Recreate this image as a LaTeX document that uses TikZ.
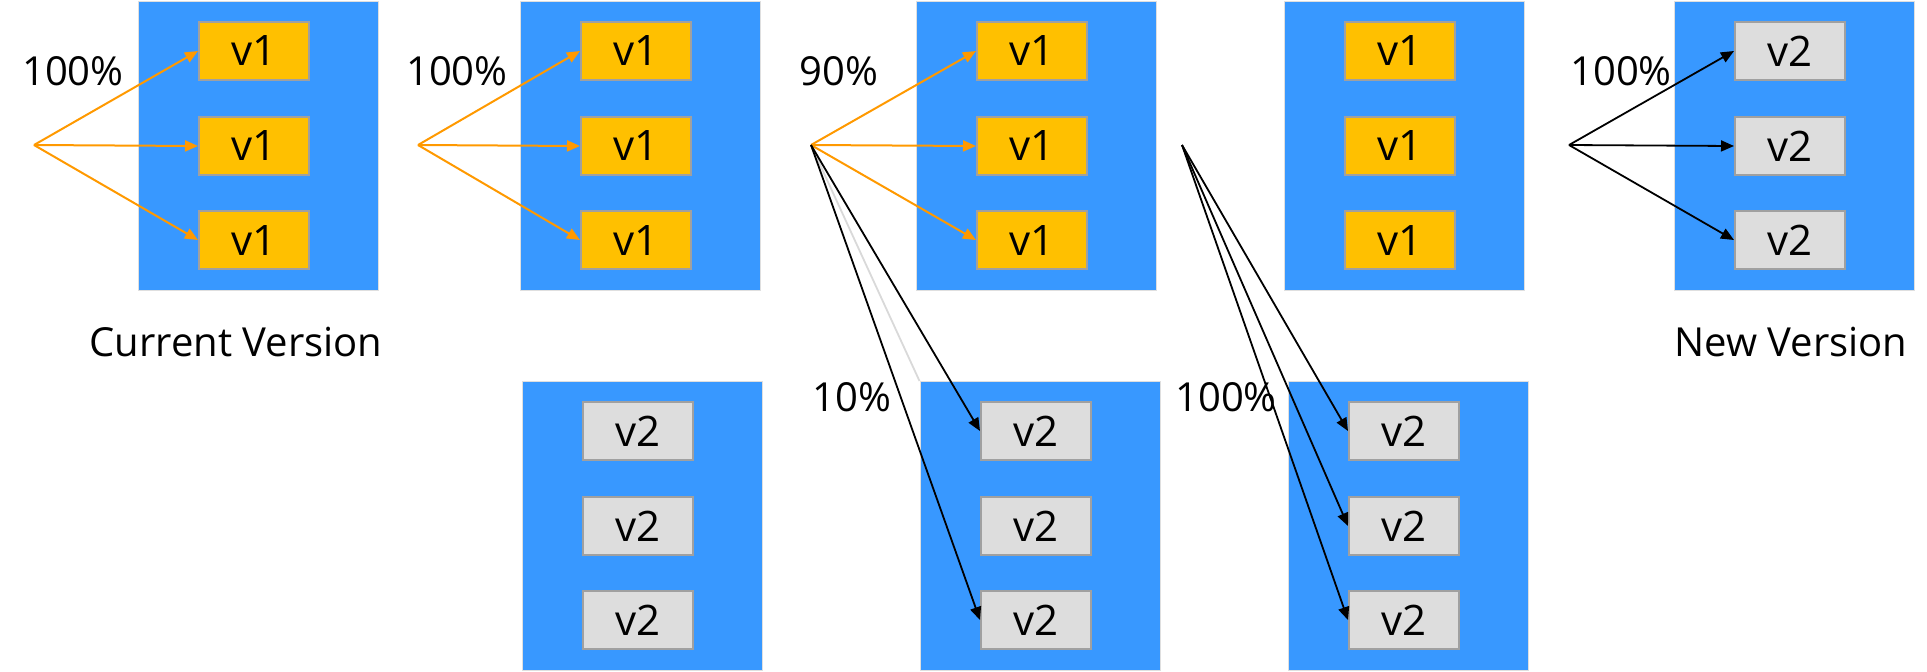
\documentclass[tikz,border=0pt]{standalone}
\usepackage{fontspec}
\setmainfont{Open Sans}
\usetikzlibrary{arrows.meta, positioning, calc}
\definecolor{poolBlue}{RGB}{56,152,255}
\definecolor{oldAmber}{RGB}{255,192,0}
\definecolor{newGrey}{RGB}{221,221,221}
\definecolor{edgeGrey}{RGB}{160,160,160}
\definecolor{arrOrange}{RGB}{255,153,0}
\tikzset{
  rb/pool/.style={rectangle, draw=gray!25, fill=poolBlue, line width=0.5pt,
    minimum width=120pt, minimum height=144.5pt, inner sep=0pt},
  rb/old/.style={rectangle, draw=edgeGrey, fill=oldAmber, line width=1pt,
    minimum width=55pt, minimum height=29pt, inner sep=0pt,
    font=\fontsize{21}{24}\selectfont},
  rb/new/.style={rb/old, fill=newGrey},
  rb/arr/.style={-{Triangle[length=6.5pt,width=5.5pt]}, line width=1pt,
    draw=arrOrange, fill=arrOrange},
  rb/arrk/.style={-{Triangle[length=6.5pt,width=5.5pt]}, line width=0.9pt,
    draw=black},
  rb/ghost/.style={line width=0.9pt, draw=gray!30},
  rb/pct/.style={font=\fontsize{20}{24}\selectfont, inner sep=0pt},
  rb/cap/.style={font=\fontsize{20}{24}\selectfont, inner sep=0pt}
}
\begin{document}
\begin{tikzpicture}[x=0.5pt, y=-0.5pt]
  \useasboundingbox (0,0) rectangle (1927,671);

  % pools, top row and lower row
  \node[rb/pool] (A)  at (258,146)  {};
  \node[rb/pool] (B)  at (640,146)  {};
  \node[rb/pool] (C)  at (1036,146) {};
  \node[rb/pool] (D)  at (1404,146) {};
  \node[rb/pool] (E)  at (1794,146) {};
  \node[rb/pool] (Bl) at (642,526)  {};
  \node[rb/pool] (Cl) at (1040,526) {};
  \node[rb/pool] (Dl) at (1408,526) {};

  % instances
  \foreach \i/\dy in {1/-95, 2/0, 3/94} {
    \node[rb/old] (A\i)  at ($(A)+(-4,\dy)$)  {v1};
    \node[rb/old] (B\i)  at ($(B)+(-4,\dy)$)  {v1};
    \node[rb/old] (C\i)  at ($(C)+(-4,\dy)$)  {v1};
    \node[rb/old] (D\i)  at ($(D)+(-4,\dy)$)  {v1};
    \node[rb/new] (E\i)  at ($(E)+(-4,\dy)$)  {v2};
    \node[rb/new] (Bl\i) at ($(Bl)+(-4,\dy)$) {v2};
    \node[rb/new] (Cl\i) at ($(Cl)+(-4,\dy)$) {v2};
    \node[rb/new] (Dl\i) at ($(Dl)+(-4,\dy)$) {v2};
  }

  % traffic sources
  \coordinate (oA) at (34,145);
  \coordinate (oB) at (418,145);
  \coordinate (oC) at (811,145);
  \coordinate (oD) at (1182,145);
  \coordinate (oE) at (1569,145);

  \draw[rb/ghost] (oC) -- (Cl.north west);
  \foreach \i in {1,2,3} {
    \draw[rb/arr]  (oA) -- (A\i.west);
    \draw[rb/arr]  (oB) -- (B\i.west);
    \draw[rb/arr]  (oC) -- (C\i.west);
    \draw[rb/arrk] (oD) -- (Dl\i.west);
    \draw[rb/arrk] (oE) -- (E\i.west);
  }
  \draw[rb/arrk] (oC) -- (Cl1.west);
  \draw[rb/arrk] (oC) -- (Cl3.west);

  % shares
  \node[rb/pct] (pA)  at (73,71)    {100\%};
  \node[rb/pct] (pB)  at (457,71)   {100\%};
  \node[rb/pct] (pC)  at (839,71)   {90\%};
  \node[rb/pct] (pCl) at (852,397)  {10\%};
  \node[rb/pct] (pDl) at (1226,397) {100\%};
  \node[rb/pct] (pE)  at (1621,71)  {100\%};

  \node[rb/cap] (cur) at (236,342)  {Current Version};
  \node[rb/cap] (nxt) at (1791,342) {New Version};
\end{tikzpicture}
\end{document}
